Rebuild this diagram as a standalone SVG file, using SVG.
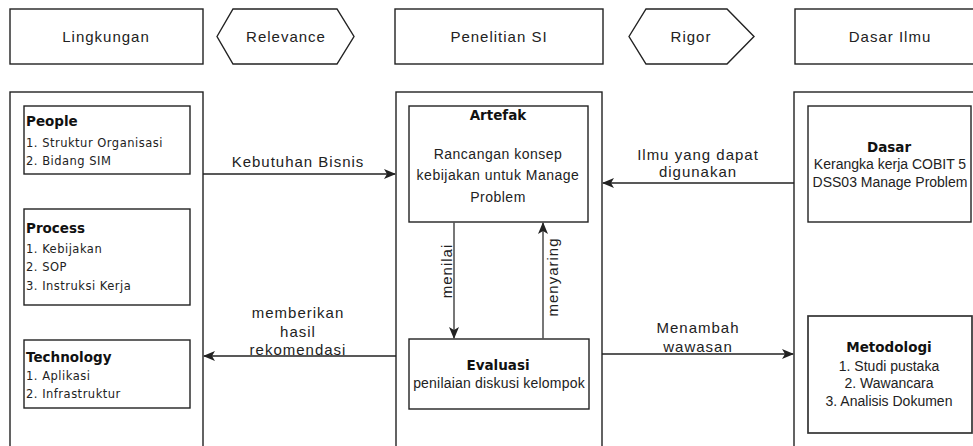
<svg xmlns="http://www.w3.org/2000/svg" width="973" height="446" viewBox="0 0 973 446">
<defs>
<style>
.box{fill:#fff;stroke:#222;stroke-width:1.4}
.t{font-family:"Liberation Sans",Arial,sans-serif;font-size:15px;letter-spacing:1px;fill:#222}
.c{text-anchor:middle}
.b{font-family:"DejaVu Sans",Verdana,sans-serif;font-weight:bold;font-size:13.5px;fill:#111}
.li{font-family:"DejaVu Sans",Verdana,sans-serif;font-size:11.5px;letter-spacing:0.5px;fill:#222}
.m{font-family:"Liberation Sans",Arial,sans-serif;font-size:14px;fill:#222}
.ln{fill:none;stroke:#222;stroke-width:1.4}
.lv{fill:none;stroke:#555;stroke-width:1.6}
</style>
<marker id="ah" viewBox="0 0 12 10" refX="11" refY="5" markerWidth="12" markerHeight="10" markerUnits="userSpaceOnUse" orient="auto">
<path d="M0,0 L12,5 L0,10 L3,5 z" fill="#222"/>
</marker>
</defs>

<g id="lingkungan"><rect class="box" x="10" y="9" width="193" height="55"/><text class="t c" x="106" y="42">Lingkungan</text></g>
<g id="relevance"><polygon class="box" points="217,36.5 233,9 337,9 354,36.5 337,64 233,64"/><text class="t c" x="286" y="42">Relevance</text></g>
<g id="penelitian"><rect class="box" x="395" y="9" width="208" height="55"/><text class="t c" x="499" y="42">Penelitian SI</text></g>
<g id="rigor"><polygon class="box" points="629,36.5 646,9 727,9 754,36.5 727,64 646,64"/><text class="t c" x="691" y="42">Rigor</text></g>
<g id="dasarilmu"><rect class="box" x="795" y="9" width="190" height="55"/><text class="t c" x="890" y="42">Dasar Ilmu</text></g>

<g id="col-left"><rect class="box" x="10" y="92" width="193" height="370"/></g>
<g id="col-mid"><rect class="box" x="396" y="92" width="206" height="370"/></g>
<g id="col-right"><rect class="box" x="794" y="92" width="200" height="370"/></g>

<g id="people"><rect class="box" x="24" y="106" width="166" height="68"/>
<text class="b" x="26" y="126">People</text>
<text class="li" x="26" y="147">1. Struktur Organisasi</text>
<text class="li" x="26" y="165">2. Bidang SIM</text></g>

<g id="process"><rect class="box" x="24" y="209" width="166" height="96"/>
<text class="b" x="26" y="233">Process</text>
<text class="li" x="26" y="253">1. Kebijakan</text>
<text class="li" x="26" y="271">2. SOP</text>
<text class="li" x="26" y="290">3. Instruksi Kerja</text></g>

<g id="technology"><rect class="box" x="24" y="340" width="166" height="68"/>
<text class="b" x="26" y="362">Technology</text>
<text class="li" x="26" y="380">1. Aplikasi</text>
<text class="li" x="26" y="398">2. Infrastruktur</text></g>

<g id="artefak"><rect class="box" x="409" y="106" width="179" height="116"/>
<text class="b c" x="498" y="120">Artefak</text>
<text class="m c" x="498" y="159" letter-spacing="0.5">Rancangan konsep</text>
<text class="m c" x="498" y="180" letter-spacing="0.5">kebijakan untuk Manage</text>
<text class="m c" x="498" y="202" letter-spacing="0.5">Problem</text></g>

<g id="evaluasi"><rect class="box" x="409" y="339" width="180" height="70"/>
<text class="b c" x="498" y="370">Evaluasi</text>
<text class="m c" x="499" y="388" letter-spacing="0.2">penilaian diskusi kelompok</text></g>

<g id="dasar"><rect class="box" x="808" y="106" width="163" height="116"/>
<text class="b c" x="889" y="152">Dasar</text>
<text class="m c" x="890" y="169">Kerangka kerja COBIT 5</text>
<text class="m c" x="890" y="187">DSS03 Manage Problem</text></g>

<g id="metodologi"><rect class="box" x="808" y="316" width="164" height="117" style="stroke-width:1.7;stroke:#333"/>
<text class="b c" x="889" y="352">Metodologi</text>
<text class="m c" x="889" y="371">1. Studi pustaka</text>
<text class="m c" x="889" y="388">2. Wawancara</text>
<text class="m c" x="889" y="406">3. Analisis Dokumen</text></g>

<g id="connectors">
<line class="ln" x1="203" y1="174" x2="395" y2="174" marker-end="url(#ah)"/>
<text class="t c" x="298" y="167">Kebutuhan Bisnis</text>
<line class="ln" x1="794" y1="183" x2="603" y2="183" marker-end="url(#ah)"/>
<text class="t c" x="698" y="160">Ilmu yang dapat</text>
<text class="t c" x="698" y="177">digunakan</text>
<line class="ln" x1="396" y1="356" x2="204" y2="356" marker-end="url(#ah)"/>
<text class="t c" x="298" y="318">memberikan</text>
<text class="t c" x="298" y="337">hasil</text>
<text class="t c" x="298" y="355">rekomendasi</text>
<line class="ln" x1="602" y1="354" x2="793" y2="354" marker-end="url(#ah)"/>
<text class="t c" x="698" y="333">Menambah</text>
<text class="t c" x="698" y="352">wawasan</text>
<line class="lv" x1="454" y1="222" x2="454" y2="338" marker-end="url(#ah)"/>
<text class="t c" transform="translate(452,271) rotate(-90)">menilai</text>
<line class="lv" x1="543" y1="339" x2="543" y2="223" marker-end="url(#ah)"/>
<text class="t c" transform="translate(558,277) rotate(-90)">menyaring</text>
</g>
</svg>
